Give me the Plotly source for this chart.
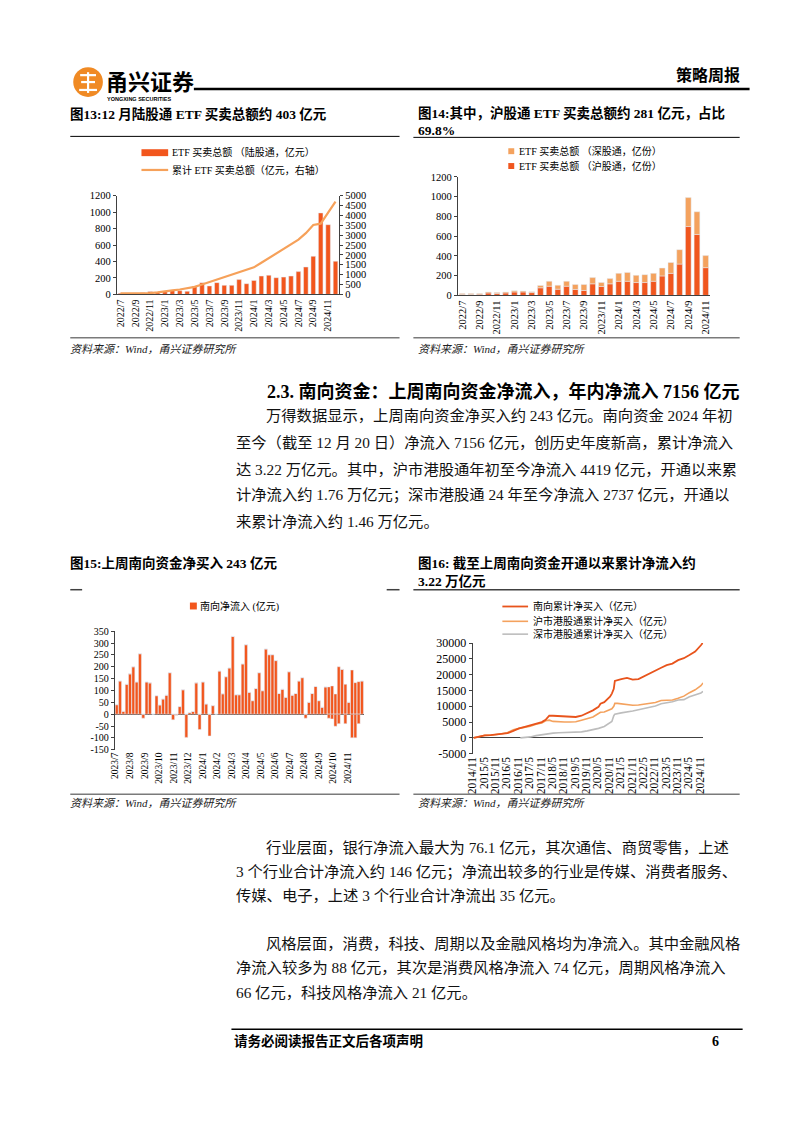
import plotly.graph_objects as go

W, H = 802, 1133
def X(px): return px / W
def Y(py): return 1 - py / H

SERIF = "Liberation Serif, 'Noto Sans CJK SC', serif"
CJK = "'Noto Sans CJK SC', sans-serif"

# ---------------- data ----------------
# Fig 13: monthly ETF turnover via Stock Connect (northbound), 100m CNY
etf_months = ["2022/7", "2022/8", "2022/9", "2022/10", "2022/11", "2022/12",
              "2023/1", "2023/2", "2023/3", "2023/4", "2023/5", "2023/6",
              "2023/7", "2023/8", "2023/9", "2023/10", "2023/11", "2023/12",
              "2024/1", "2024/2", "2024/3", "2024/4", "2024/5", "2024/6",
              "2024/7", "2024/8", "2024/9", "2024/10", "2024/11", "2024/12"]
etf_total = [15, 18, 18, 20, 35, 28, 35, 48, 45, 38, 100, 143, 103, 143, 110,
             110, 180, 130, 170, 223, 233, 203, 210, 223, 277, 333, 463, 990, 847, 403]
etf_cum = [50, 50, 50, 55, 66, 100, 165, 200, 248, 300, 380, 500, 627, 730, 842,
           980, 1122, 1250, 1370, 1600, 1832, 2050, 2277, 2520, 2772, 3100, 3515,
           3580, 4175, 4700]

# Fig 14: split Shanghai / Shenzhen connect
sgt_months = ["2022/7", "2022/8", "2022/9", "2022/10", "2022/11", "2022/12",
              "2023/1", "2023/2", "2023/3", "2023/4", "2023/5", "2023/6",
              "2023/7", "2023/8", "2023/9", "2023/10", "2023/11", "2023/12",
              "2024/1", "2024/2", "2024/3", "2024/4", "2024/5", "2024/6",
              "2024/7", "2024/8", "2024/9", "2024/10", "2024/11"]
sh_etf = [10, 10, 12, 25, 18, 25, 35, 35, 28, 77, 93, 63, 93, 60, 50, 117, 90,
          117, 143, 143, 130, 130, 143, 197, 223, 317, 697, 617, 281]
sz_etf = [8, 8, 8, 10, 10, 10, 13, 10, 10, 23, 50, 40, 50, 50, 60, 63, 40, 53,
          80, 90, 73, 80, 80, 80, 110, 146, 293, 230, 122]

# Fig 15: weekly southbound net inflow, 100m CNY
south_net = [40, 140, 12, 126, 170, 200, 136, 255, -17, 136, 132, 0, 78, 39, 64,
             80, 175, -24, -5, 32, 103, -98, 7, 11, 132, -65, 136, 43, -92, 36,
             0, 182, 86, 158, 195, 328, 82, 82, 212, 293, 92, 57, 108, 175, 99,
             275, 251, 251, 226, 87, 105, 71, 179, 80, 87, 140, 154, -17, 50, 87,
             117, 57, 29, 115, 115, 119, 85, 200, 189, 126, 50, 186, 133, 137, 140]
south_out = [0] * 64 + [-17, -20, -51, -40, 0, -40, 0, -100, -100, -40, 0]
south_ticks = ["2023/7", "2023/8", "2023/9", "2023/10", "2023/11", "2023/12",
               "2024/1", "2024/2", "2024/3", "2024/4", "2024/5", "2024/6",
               "2024/7", "2024/8", "2024/9", "2024/10", "2024/11"]

# Fig 16: cumulative southbound net buying, 100m CNY
hk_dates = ["2014-11-17", "2015-01-15", "2015-04-15", "2015-05-15", "2015-08-15",
            "2015-11-15", "2016-02-15", "2016-05-15", "2016-08-15", "2016-11-15",
            "2017-02-15", "2017-05-15", "2017-08-15", "2017-11-15", "2018-01-15",
            "2018-03-15", "2018-05-15", "2018-08-15", "2018-11-15", "2019-02-15",
            "2019-05-15", "2019-08-15", "2019-11-15", "2020-02-15", "2020-05-15",
            "2020-06-15", "2020-08-15", "2020-11-15", "2020-12-15", "2021-01-15",
            "2021-02-01", "2021-03-15", "2021-05-15", "2021-08-15", "2021-11-15",
            "2022-02-15", "2022-05-15", "2022-08-15", "2022-11-15", "2023-02-15",
            "2023-05-15", "2023-08-15", "2023-11-15", "2024-02-15", "2024-05-15",
            "2024-08-15", "2024-11-15", "2024-12-20"]
south_cum = [0, 300, 600, 800, 850, 1000, 1200, 1500, 2200, 3000, 3500, 4000, 4600,
             5000, 5700, 7000, 7000, 6900, 6800, 6700, 6600, 7000, 7800, 8700, 9800,
             10800, 11300, 13000, 14000, 15500, 18000, 18300, 18600, 19000, 18400,
             18600, 19500, 20500, 21400, 22200, 23000, 23500, 24600, 25200, 26200,
             27300, 29300, 30200]
sh_cum = [0, 300, 600, 800, 850, 1000, 1300, 1700, 2600, 3000, 3300, 3700, 4300,
          4700, 5400, 5600, 5200, 5000, 5000, 5000, 5100, 5600, 6100, 6600, 7700,
          8100, 8200, 8800, 9200, 10000, 10900, 10900, 10800, 10500, 10300, 10400,
          10700, 11000, 11200, 11800, 11900, 12000, 12500, 13200, 14300, 15200,
          16500, 17400]
sz_dates = ["2016-12-05", "2017-02-15", "2017-05-15", "2017-08-15", "2017-11-15",
            "2018-01-15", "2018-03-15", "2018-05-15", "2018-08-15", "2018-11-15",
            "2019-02-15", "2019-05-15", "2019-08-15", "2019-11-15", "2020-02-15",
            "2020-05-15", "2020-08-15", "2020-11-15", "2020-12-15", "2021-01-15",
            "2021-02-01", "2021-05-15", "2021-08-15", "2021-11-15", "2022-02-15",
            "2022-05-15", "2022-08-15", "2022-11-15", "2023-02-15", "2023-05-15",
            "2023-08-15", "2023-11-15", "2024-02-15", "2024-05-15", "2024-08-15",
            "2024-11-15", "2024-12-20"]
sz_cum = [0, 50, 300, 700, 1000, 1200, 1400, 1500, 1600, 1650, 1700, 1700, 1900,
          2200, 2500, 3000, 3600, 4800, 5200, 7000, 7500, 7900, 8100, 8500, 8900,
          9300, 9700, 10100, 10800, 11000, 11400, 12000, 12100, 13000, 13600,
          14200, 14700]
hk_tick_dates = ["2014-11-01", "2015-05-01", "2015-11-01", "2016-05-01", "2016-11-01",
                 "2017-05-01", "2017-11-01", "2018-05-01", "2018-11-01", "2019-05-01",
                 "2019-11-01", "2020-05-01", "2020-11-01", "2021-05-01", "2021-11-01",
                 "2022-05-01", "2022-11-01", "2023-05-01", "2023-11-01", "2024-05-01",
                 "2024-11-01"]
hk_tick_text = ["2014/11", "2015/5", "2015/11", "2016/5", "2016/11", "2017/5",
                "2017/11", "2018/5", "2018/11", "2019/5", "2019/11", "2020/5",
                "2020/11", "2021/5", "2021/11", "2022/5", "2022/11", "2023/5",
                "2023/11", "2024/5", "2024/11"]

# ---------------- colours ----------------
C_BAR = "#F2561D"
C_LINE = "#F6A15A"
C_LIGHT = "#F4A25E"
C_DARK = "#F0561E"
C_GREY = "#BDBDBD"
AX = "#404040"

fig = go.Figure()

# Fig 13
fig.add_trace(go.Bar(x=etf_months, y=etf_total, marker_color=C_BAR, width=0.62,
                     xaxis="x", yaxis="y", showlegend=False))
fig.add_trace(go.Scatter(x=etf_months, y=etf_cum, mode="lines",
                         line=dict(color=C_LINE, width=2.2), xaxis="x", yaxis="y2",
                         showlegend=False))
# Fig 14
fig.add_trace(go.Bar(x=sgt_months, y=sh_etf, marker_color=C_DARK, width=0.66,
                     xaxis="x2", yaxis="y3", showlegend=False))
fig.add_trace(go.Bar(x=sgt_months, y=sz_etf, marker_color=C_LIGHT, width=0.66,
                     xaxis="x2", yaxis="y3", showlegend=False))
# Fig 15
idx = list(range(len(south_net)))
fig.add_trace(go.Bar(x=idx, y=south_net, marker_color=C_BAR, width=0.9,
                     xaxis="x3", yaxis="y4", showlegend=False))
fig.add_trace(go.Bar(x=idx, y=south_out, marker_color=C_BAR, width=0.9,
                     xaxis="x3", yaxis="y4", showlegend=False))
# Fig 16
fig.add_trace(go.Scatter(x=sz_dates, y=sz_cum, mode="lines",
                         line=dict(color=C_GREY, width=1.6), xaxis="x4", yaxis="y5",
                         showlegend=False))
fig.add_trace(go.Scatter(x=hk_dates, y=sh_cum, mode="lines",
                         line=dict(color=C_LIGHT, width=1.6), xaxis="x4", yaxis="y5",
                         showlegend=False))
fig.add_trace(go.Scatter(x=hk_dates, y=south_cum, mode="lines",
                         line=dict(color="#E8541C", width=1.8), xaxis="x4", yaxis="y5",
                         showlegend=False))

def yax(**kw):
    d = dict(showgrid=False, zeroline=False, showline=True, linecolor=AX, linewidth=1,
             ticks="outside", ticklen=3, tickcolor=AX, fixedrange=True)
    d.update(kw)
    return d

def xax(**kw):
    d = dict(showgrid=False, zeroline=False, showline=True, linecolor=AX, linewidth=1,
             ticks="", tickangle=-90, fixedrange=True)
    d.update(kw)
    return d

s15_tickvals = [-0.4 + 4.38 * k for k in range(len(south_ticks))]
y15_vals = list(range(-150, 351, 50))
y16_vals = list(range(-5000, 30001, 5000))

fig.update_layout(
    width=W, height=H, margin=dict(l=0, r=0, t=0, b=0),
    paper_bgcolor="white", plot_bgcolor="rgba(0,0,0,0)",
    barmode="relative", showlegend=False,
    font=dict(family=SERIF, color="#000"),
    xaxis=xax(domain=[X(112), X(337)], anchor="y", type="category",
              range=[-0.5, 29.5], tickvals=etf_months[::2],
              tickfont=dict(size=10, family=SERIF)),
    yaxis=yax(domain=[Y(291), Y(191)], anchor="x", range=[0, 1200], dtick=200,
              tickfont=dict(size=10.5, family=SERIF)),
    yaxis2=yax(overlaying="y", side="right", anchor="x", range=[0, 5000], dtick=500,
               tickfont=dict(size=10.5, family=SERIF)),
    xaxis2=xax(domain=[X(457), X(712)], anchor="y3", type="category",
               range=[-0.5, 28.5], tickvals=sgt_months[::2],
               tickfont=dict(size=10.5, family=SERIF)),
    yaxis3=yax(domain=[Y(292), Y(172)], anchor="x2", range=[0, 1200], dtick=200,
               tickfont=dict(size=10.5, family=SERIF)),
    xaxis3=xax(domain=[X(110), X(362)], anchor="y4", range=[-0.6, 74.6],
               showline=False, tickvals=s15_tickvals, ticktext=south_ticks,
               tickfont=dict(size=9.5, family=SERIF)),
    yaxis4=yax(domain=[Y(752), Y(632)], anchor="x3", range=[-150, 350],
               tickvals=y15_vals, ticktext=[str(v) for v in y15_vals],
               zeroline=True, zerolinecolor=AX, zerolinewidth=1,
               tickfont=dict(size=10, family=SERIF)),
    xaxis4=xax(domain=[X(472), X(705)], anchor="y5", type="date",
               range=["2014-11-01", "2024-12-20"], showline=False,
               tickvals=hk_tick_dates, ticktext=hk_tick_text,
               tickfont=dict(size=11.5, family=SERIF)),
    yaxis5=yax(domain=[Y(756), Y(644)], anchor="x4", range=[-5000, 30000],
               tickvals=y16_vals, ticktext=[str(v) for v in y16_vals],
               zeroline=True, zerolinecolor=AX, zerolinewidth=1,
               tickfont=dict(size=12, family=SERIF)),
)

shapes = []
def hline(x0, x1, y, w=1.0, c="#000"):
    shapes.append(dict(type="line", xref="paper", yref="paper", x0=X(x0), x1=X(x1),
                       y0=Y(y), y1=Y(y), line=dict(color=c, width=w)))
def rect(x0, x1, y0, y1, c):
    shapes.append(dict(type="rect", xref="paper", yref="paper", x0=X(x0), x1=X(x1),
                       y0=Y(y1), y1=Y(y0), line=dict(width=0), fillcolor=c))

# header
shapes.append(dict(type="circle", xref="paper", yref="paper", x0=X(68), x1=X(98),
                   y0=Y(91), y1=Y(61), fillcolor="#F08A24", line=dict(width=0)))
hline(75, 91, 69, 2.2, "white")
hline(76, 90, 76, 2.2, "white")
hline(74, 92, 84, 2.2, "white")
shapes.append(dict(type="line", xref="paper", yref="paper", x0=X(83), x1=X(83),
                   y0=Y(66), y1=Y(87), line=dict(color="white", width=2.2)))
hline(190, 752, 83, 2.5)
# title rules
hline(65, 398, 131, 1)
hline(412, 742, 132, 1)
hline(65, 398, 335, 1.5, "#7a7a7a")
hline(412, 742, 335, 1.5, "#7a7a7a")
hline(65, 77, 590, 1.5, "#404040")
hline(385, 398, 590, 1.5, "#404040")
hline(412, 742, 590, 1.5, "#404040")
hline(65, 398, 797, 1.5, "#7a7a7a")
hline(412, 742, 797, 1.5, "#7a7a7a")
hline(228, 745, 1035, 1.5)
# legend keys
rect(137, 164, 144, 151, C_BAR)
hline(137, 164, 165, 2.2, C_LINE)
rect(508, 514, 143, 149, C_LIGHT)
rect(508, 514, 158, 164, C_DARK)
rect(186, 193, 603, 610, C_BAR)
hline(502, 528, 607, 1.8, "#E8541C")
hline(502, 528, 622, 1.6, C_LIGHT)
hline(502, 528, 635, 1.6, C_GREY)
fig.update_layout(shapes=shapes)

def txt(s, x, y, size, anchor="left", family=SERIF, color="#000"):
    fig.add_annotation(text=s, x=X(x), y=Y(y), xref="paper", yref="paper",
                       xanchor=anchor, yanchor="middle", showarrow=False,
                       font=dict(size=size, family=family, color=color))

# header texts
txt("<b>甬兴证券</b>", 99, 74, 22, family=CJK)
txt("<b>YONGXING SECURITIES</b>", 100, 93, 5.5, family="Liberation Sans, sans-serif")
txt("<b>策略周报</b>", 744, 69, 16, anchor="right")

# figure titles
txt("<b>图13:12 月陆股通 ETF 买卖总额约 403 亿元</b>", 63, 108, 13.5)
txt("<b>图14:其中，沪股通 ETF 买卖总额约 281 亿元，占比</b>", 415, 107, 13.5)
txt("<b>69.8%</b>", 415, 125, 13.5)
txt("<b>图15:上周南向资金净买入 243 亿元</b>", 63, 563, 13.5)
txt("<b>图16: 截至上周南向资金开通以来累计净流入约</b>", 415, 563, 13.5)
txt("<b>3.22 万亿元</b>", 415, 582, 13.5)

# legends
txt("ETF 买卖总额 （陆股通，亿元）", 166, 147, 10)
txt("累计 ETF 买卖总额（亿元，右轴）", 166, 165, 10)
txt("ETF 买卖总额 （深股通，亿份）", 517, 146, 10)
txt("ETF 买卖总额 （沪股通，亿份）", 517, 161, 10)
txt("南向净流入 (亿元)", 194, 607, 10)
txt("南向累计净买入（亿元）", 531, 607, 10)
txt("沪市港股通累计净买入（亿元）", 531, 622, 10)
txt("深市港股通累计净买入（亿元）", 531, 635, 10)

# sources
for sx, sy in [(63, 346), (415, 346), (63, 806), (415, 806)]:
    txt("<i>资料来源：Wind，甬兴证券研究所</i>", sx, sy, 11, color="#222")

# section heading
txt("<b>2.3. 南向资金：上周南向资金净流入，年内净流入 7156 亿元</b>", 744, 389, 18,
    anchor="right")

PS = 15.3
para1 = [
    (261, "万得数据显示，上周南向资金净买入约 243 亿元。南向资金 2024 年初"),
    (231, "至今（截至 12 月 20 日）净流入 7156 亿元，创历史年度新高，累计净流入"),
    (231, "达 3.22 万亿元。其中，沪市港股通年初至今净流入 4419 亿元，开通以来累"),
    (231, "计净流入约 1.76 万亿元；深市港股通 24 年至今净流入 2737 亿元，开通以"),
    (231, "来累计净流入约 1.46 万亿元。"),
]
for (x0, s), yy in zip(para1, [414, 441, 468, 494, 521]):
    txt(s, x0, yy, PS, color="#111")

para2 = [
    (261, "行业层面，银行净流入最大为 76.1 亿元，其次通信、商贸零售，上述"),
    (231, "3 个行业合计净流入约 146 亿元；净流出较多的行业是传媒、消费者服务、"),
    (231, "传媒、电子，上述 3 个行业合计净流出 35 亿元。"),
]
for (x0, s), yy in zip(para2, [851, 876, 900]):
    txt(s, x0, yy, PS, color="#111")

para3 = [
    (261, "风格层面，消费，科技、周期以及金融风格均为净流入。其中金融风格"),
    (231, "净流入较多为 88 亿元，其次是消费风格净流入 74 亿元，周期风格净流入"),
    (231, "66 亿元，科技风格净流入 21 亿元。"),
]
for (x0, s), yy in zip(para3, [948, 973, 998]):
    txt(s, x0, yy, PS, color="#111")

# footer
txt("<b>请务必阅读报告正文后各项声明</b>", 229, 1047, 13.5)
txt("<b>6</b>", 723, 1047, 14, anchor="right")

fig.write_html("out.html")
